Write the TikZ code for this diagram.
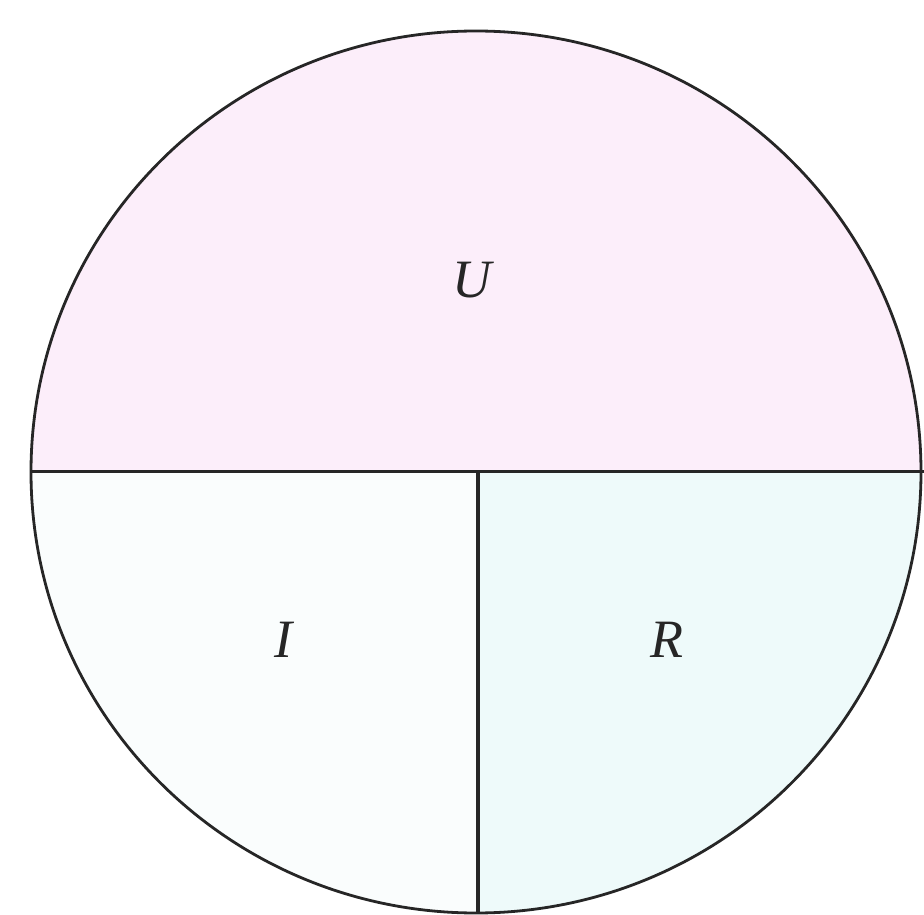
\documentclass[tikz,border=0pt]{standalone}
\usepackage{fontspec}
\setmainfont{Liberation Serif}
\definecolor{topfill}{HTML}{FCEEFA}
\definecolor{leftfill}{HTML}{FAFDFD}
\definecolor{rightfill}{HTML}{EEFAFA}
\tikzset{
  outline/.style={draw=black!85, line width=2.8pt},
  divider/.style={draw=black!85, line width=3pt},
  lbl/.style={font=\fontsize{54}{62}\selectfont\itshape, text=black!85, inner sep=0pt}
}
\begin{document}
\begin{tikzpicture}[x=1pt,y=1pt]
\useasboundingbox (0,0) rectangle (924,914);
\coordinate (c) at (476,442);
\begin{scope}
  \clip (c) ellipse [x radius=445, y radius=441];
  \fill[topfill] (0,442) rectangle (924,914);
  \fill[leftfill] (0,0) rectangle (478,442);
  \fill[rightfill] (478,0) rectangle (924,442);
\end{scope}
\draw[outline] (c) ellipse [x radius=445, y radius=441];
\coordinate (hl) at (31,442);
\coordinate (hr) at (924,442);
\coordinate (vt) at (478,442);
\coordinate (vb) at (478,0);
\draw[divider] (hl) -- (hr);
\draw[divider, line width=4pt] (vt) -- (vb);
\node[lbl] (U) at (472,634) {U};
\node[lbl] (I) at (283,274) {I};
\node[lbl] (R) at (667,274) {R};
\end{tikzpicture}
\end{document}
